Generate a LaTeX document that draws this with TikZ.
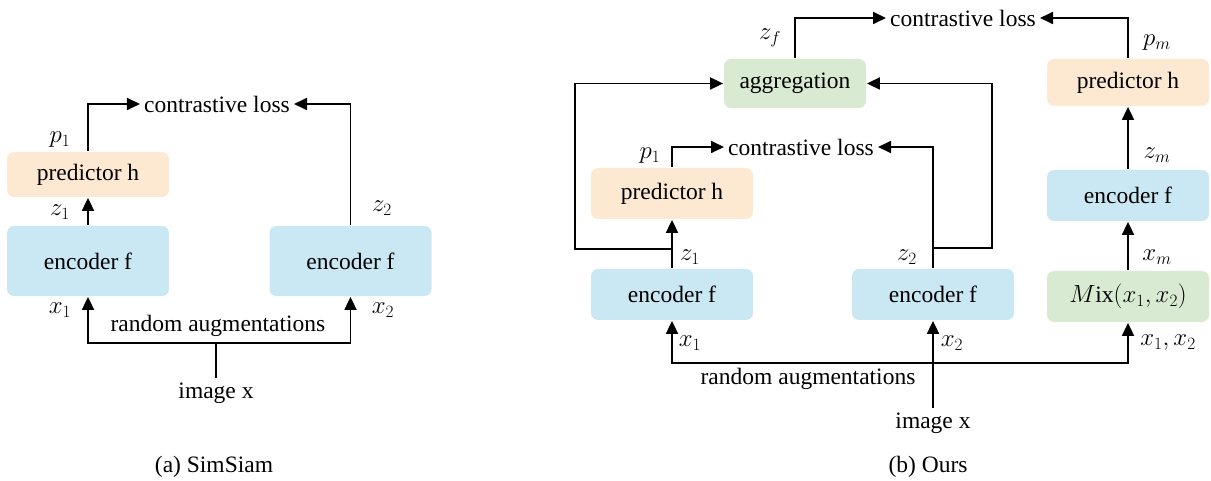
\documentclass[tikz,border=0pt]{standalone}
\usepackage{fontspec}
\setmainfont{Liberation Serif}
\usetikzlibrary{arrows.meta}

\definecolor{encblue}{RGB}{201,232,243}
\definecolor{predorange}{RGB}{253,233,210}
\definecolor{agggreen}{RGB}{217,234,211}

\begin{document}
\begin{tikzpicture}[
            x = 1pt, y = -1pt, % pixel grid, y downwards
            > = {Triangle[length=13pt, width=12pt]}, % arrow head style
            line width = 1.8pt, % line style
            font = \fontsize{23.5}{27}\selectfont
        ]

        \tikzstyle{box}=[
        rounded corners = 7pt,
        inner sep = 0pt,
        minimum width = 162pt
        ]
        \tikzstyle{enc}=[box, fill = encblue]
        \tikzstyle{pred}=[box, fill = predorange]
        \tikzstyle{agg}=[box, fill = agggreen]
        \tikzstyle{lbl}=[inner sep = 0pt]

        \useasboundingbox (0,0) rectangle (1211,481);

        % (a) SimSiam
        \node (predA) [pred, minimum height = 45pt] at (88,174.5) {predictor h};
        \node (encA1) [enc, minimum height = 70pt] at (88,261) {encoder f};
        \node (encA2) [enc, minimum height = 70pt] at (350.5,261) {encoder f};
        \node (lossA) at (217,104) {contrastive loss};
        \node (augA) [lbl] at (218,326) {random augmentations};
        \node (imgA) at (216,393) {image x};
        \coordinate (splitA) at (216,343);

        \path[draw, ->] (encA1.north) -- (predA.south);
        \path[draw, ->] (predA.north) |- (lossA.west);
        \path[draw, ->] (encA2.north) |- (lossA.east);
        \path[draw] (imgA.north) -- (splitA);
        \path[draw, ->] (splitA) -| (encA1.south);
        \path[draw, ->] (splitA) -| (encA2.south);

        \node[lbl] at (60,140) {$p_1$};
        \node[lbl] at (60,212) {$z_1$};
        \node[lbl] at (382,208) {$z_2$};
        \node[lbl] at (60,310) {$x_1$};
        \node[lbl] at (383,310) {$x_2$};

        \node (capA) at (214,467) {(a) SimSiam};

        % (b) Ours
        \node (agg) [agg, minimum width = 142pt, minimum height = 49pt] at (795,83.5) {aggregation};
        \node (lossB1) at (963,18) {contrastive loss};
        \node (predB1) [pred, minimum height = 51pt] at (672,193.5) {predictor h};
        \node (encB1) [enc, minimum height = 51pt] at (672,294.5) {encoder f};
        \node (encB2) [enc, minimum height = 51pt] at (933,294.5) {encoder f};
        \node (lossB2) at (801,147) {contrastive loss};
        \node (predBm) [pred, minimum height = 47pt] at (1128,82.5) {predictor h};
        \node (encBm) [enc, minimum height = 51pt] at (1128,195.5) {encoder f};
        \node (mixB) [agg, minimum height = 51pt] at (1128,296.5) {$M\mathrm{ix}(x_1,x_2)$};
        \node (augB) [lbl] at (808,379) {random augmentations};
        \node (imgB) at (933,423) {image x};

        \coordinate (br1) at (672,249);
        \coordinate (loopL) at (575,249);
        \coordinate (br2) at (933,248);
        \coordinate (loopR) at (992,248);
        \coordinate (splitB) at (933,363);

        \path[draw, ->] (agg.north) |- (lossB1.west);
        \path[draw, ->] (predBm.north) |- (lossB1.east);
        \path[draw, ->] (encB1.north) -- (predB1.south);
        \path[draw, ->] (predB1.north) |- (lossB2.west);
        \path[draw, ->] (encB2.north) |- (lossB2.east);
        \path[draw, ->] (br1) -- (loopL) |- (agg.west);
        \path[draw, ->] (br2) -- (loopR) |- (agg.east);
        \path[draw, ->] (mixB.north) -- (encBm.south);
        \path[draw, ->] (encBm.north) -- (predBm.south);
        \path[draw, ->] (imgB.north) -- (encB2.south);
        \path[draw, ->] (splitB) -| (encB1.south);
        \path[draw, ->] (splitB) -| (mixB.south);

        \node[lbl] at (770,38) {$z_f$};
        \node[lbl] at (650,156) {$p_1$};
        \node[lbl] at (690,257) {$z_1$};
        \node[lbl] at (907,257) {$z_2$};
        \node[lbl] at (1157,43) {$p_m$};
        \node[lbl] at (1157,155) {$z_m$};
        \node[lbl] at (1157,257) {$x_m$};
        \node[lbl] at (690,343) {$x_1$};
        \node[lbl] at (952,343) {$x_2$};
        \node[lbl] at (1168,343) {$x_1,x_2$};

        \node (capB) at (928,467) {(b) Ours};
    \end{tikzpicture}
\end{document}
